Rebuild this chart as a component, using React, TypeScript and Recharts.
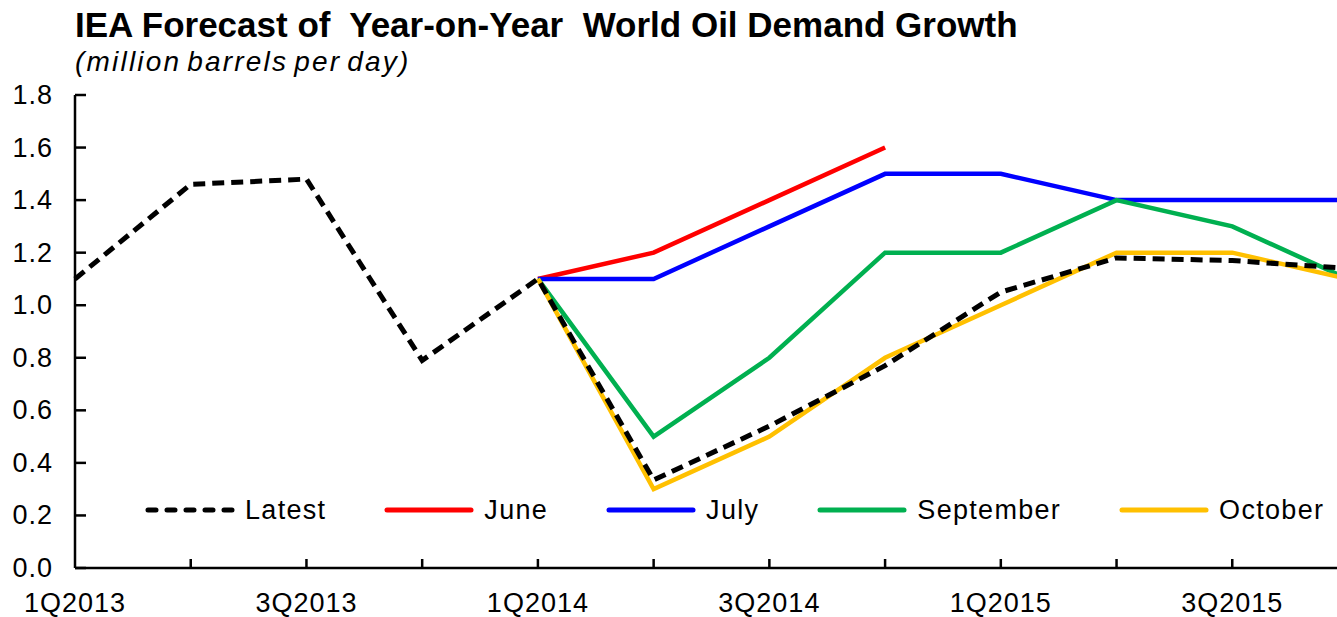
import React from "react";
import { Line, LineChart, XAxis, YAxis } from "recharts";

const QUARTERS = [
  "1Q2013", "2Q2013", "3Q2013", "4Q2013",
  "1Q2014", "2Q2014", "3Q2014", "4Q2014",
  "1Q2015", "2Q2015", "3Q2015", "4Q2015",
];

const LATEST = [1.1, 1.46, 1.48, 0.79, 1.1, 0.335, 0.54, 0.77, 1.05, 1.18, 1.17, 1.14];
const JUNE = [null, null, null, null, 1.1, 1.2, 1.4, 1.6, null, null, null, null];
const JULY = [null, null, null, null, 1.1, 1.1, 1.3, 1.5, 1.5, 1.4, 1.4, 1.4];
const SEPTEMBER = [null, null, null, null, 1.1, 0.5, 0.8, 1.2, 1.2, 1.4, 1.3, 1.1];
const OCTOBER = [null, null, null, null, 1.1, 0.3, 0.5, 0.8, 1.0, 1.2, 1.2, 1.1];

const Y_TICKS = [0, 0.2, 0.4, 0.6, 0.8, 1.0, 1.2, 1.4, 1.6, 1.8];

const SERIES = [
  { key: "Latest", color: "#000000", dash: true },
  { key: "June", color: "#ff0000" },
  { key: "July", color: "#0000ff" },
  { key: "September", color: "#00b050" },
  { key: "October", color: "#ffc000" },
];

const FONT = "'Liberation Sans', Arial, sans-serif";

const data = QUARTERS.map((q, i) => ({
  quarter: q,
  Latest: LATEST[i],
  June: JUNE[i],
  July: JULY[i],
  September: SEPTEMBER[i],
  October: OCTOBER[i],
}));

function XTick({ x, y, payload }: any) {
  const i = payload.index;
  return (
    <g>
      {i > 0 && <line x1={x} y1={y} x2={x} y2={y - 9} stroke="#000" strokeWidth={2.5} />}
      {i % 2 === 0 && (
        <text
          x={x}
          y={y + 44}
          textAnchor="middle"
          fontSize={27}
          letterSpacing={1}
          fontFamily={FONT}
          fill="#000"
        >
          {payload.value}
        </text>
      )}
    </g>
  );
}

function YTick({ x, y, payload }: any) {
  return (
    <g>
      <line x1={x} y1={y} x2={x + 11} y2={y} stroke="#000" strokeWidth={2.5} />
      <text
        x={x - 22}
        y={y + 9}
        textAnchor="end"
        fontSize={27}
        letterSpacing={1}
        fontFamily={FONT}
        fill="#000"
      >
        {Number(payload.value).toFixed(1)}
      </text>
    </g>
  );
}

function LegendBox() {
  return (
    <div
      style={{
        position: "absolute",
        left: 145,
        top: 495,
        height: 30,
        display: "flex",
        alignItems: "center",
        fontFamily: FONT,
        fontSize: 27,
        letterSpacing: 1.3,
      }}
    >
      {SERIES.map((s) => (
        <div key={s.key} style={{ display: "flex", alignItems: "center", marginRight: 58 }}>
          <svg width={90} height={10} style={{ display: "block" }}>
            <line
              x1={3}
              y1={5}
              x2={87}
              y2={5}
              stroke={s.color}
              strokeWidth={5}
              strokeLinecap="round"
              strokeDasharray={s.dash ? "8 11" : undefined}
            />
          </svg>
          <span style={{ marginLeft: 10, lineHeight: "30px" }}>{s.key}</span>
        </div>
      ))}
    </div>
  );
}

export default function App() {
  return (
    <div
      style={{
        position: "absolute",
        left: 0,
        top: 0,
        width: 1337,
        height: 617,
        overflow: "hidden",
        background: "#fff",
        fontFamily: FONT,
      }}
    >
      <div
        style={{
          position: "absolute",
          left: 75,
          top: 5,
          fontSize: 35,
          fontWeight: "bold",
          whiteSpace: "pre",
          lineHeight: "40px",
        }}
      >
        {"IEA Forecast of  Year-on-Year  World Oil Demand Growth"}
      </div>
      <div
        style={{
          position: "absolute",
          left: 75,
          top: 46,
          fontSize: 28,
          fontStyle: "italic",
          letterSpacing: 2.2,
          wordSpacing: -4,
          lineHeight: "32px",
          whiteSpace: "pre",
        }}
      >
        (million barrels per day)
      </div>
      <LineChart width={1360} height={617} data={data} margin={{ top: 95, right: 12, bottom: 0, left: 0 }}>
        <XAxis
          dataKey="quarter"
          interval={0}
          height={49}
          tickSize={0}
          tickMargin={0}
          tickLine={false}
          tick={<XTick />}
          axisLine={{ stroke: "#000", strokeWidth: 2.5 }}
        />
        <YAxis
          domain={[0, 1.8]}
          ticks={Y_TICKS}
          width={75}
          tickSize={0}
          tickMargin={0}
          tickLine={false}
          tick={<YTick />}
          axisLine={{ stroke: "#000", strokeWidth: 2.5 }}
        />
        {SERIES.slice(1).map((s) => (
          <Line
            key={s.key}
            type="linear"
            dataKey={s.key}
            stroke={s.color}
            strokeWidth={4.5}
            dot={false}
            isAnimationActive={false}
          />
        ))}
        <Line
          type="linear"
          dataKey="Latest"
          stroke="#000"
          strokeWidth={5}
          strokeDasharray="12 7"
          dot={false}
          isAnimationActive={false}
        />
      </LineChart>
      <LegendBox />
    </div>
  );
}
